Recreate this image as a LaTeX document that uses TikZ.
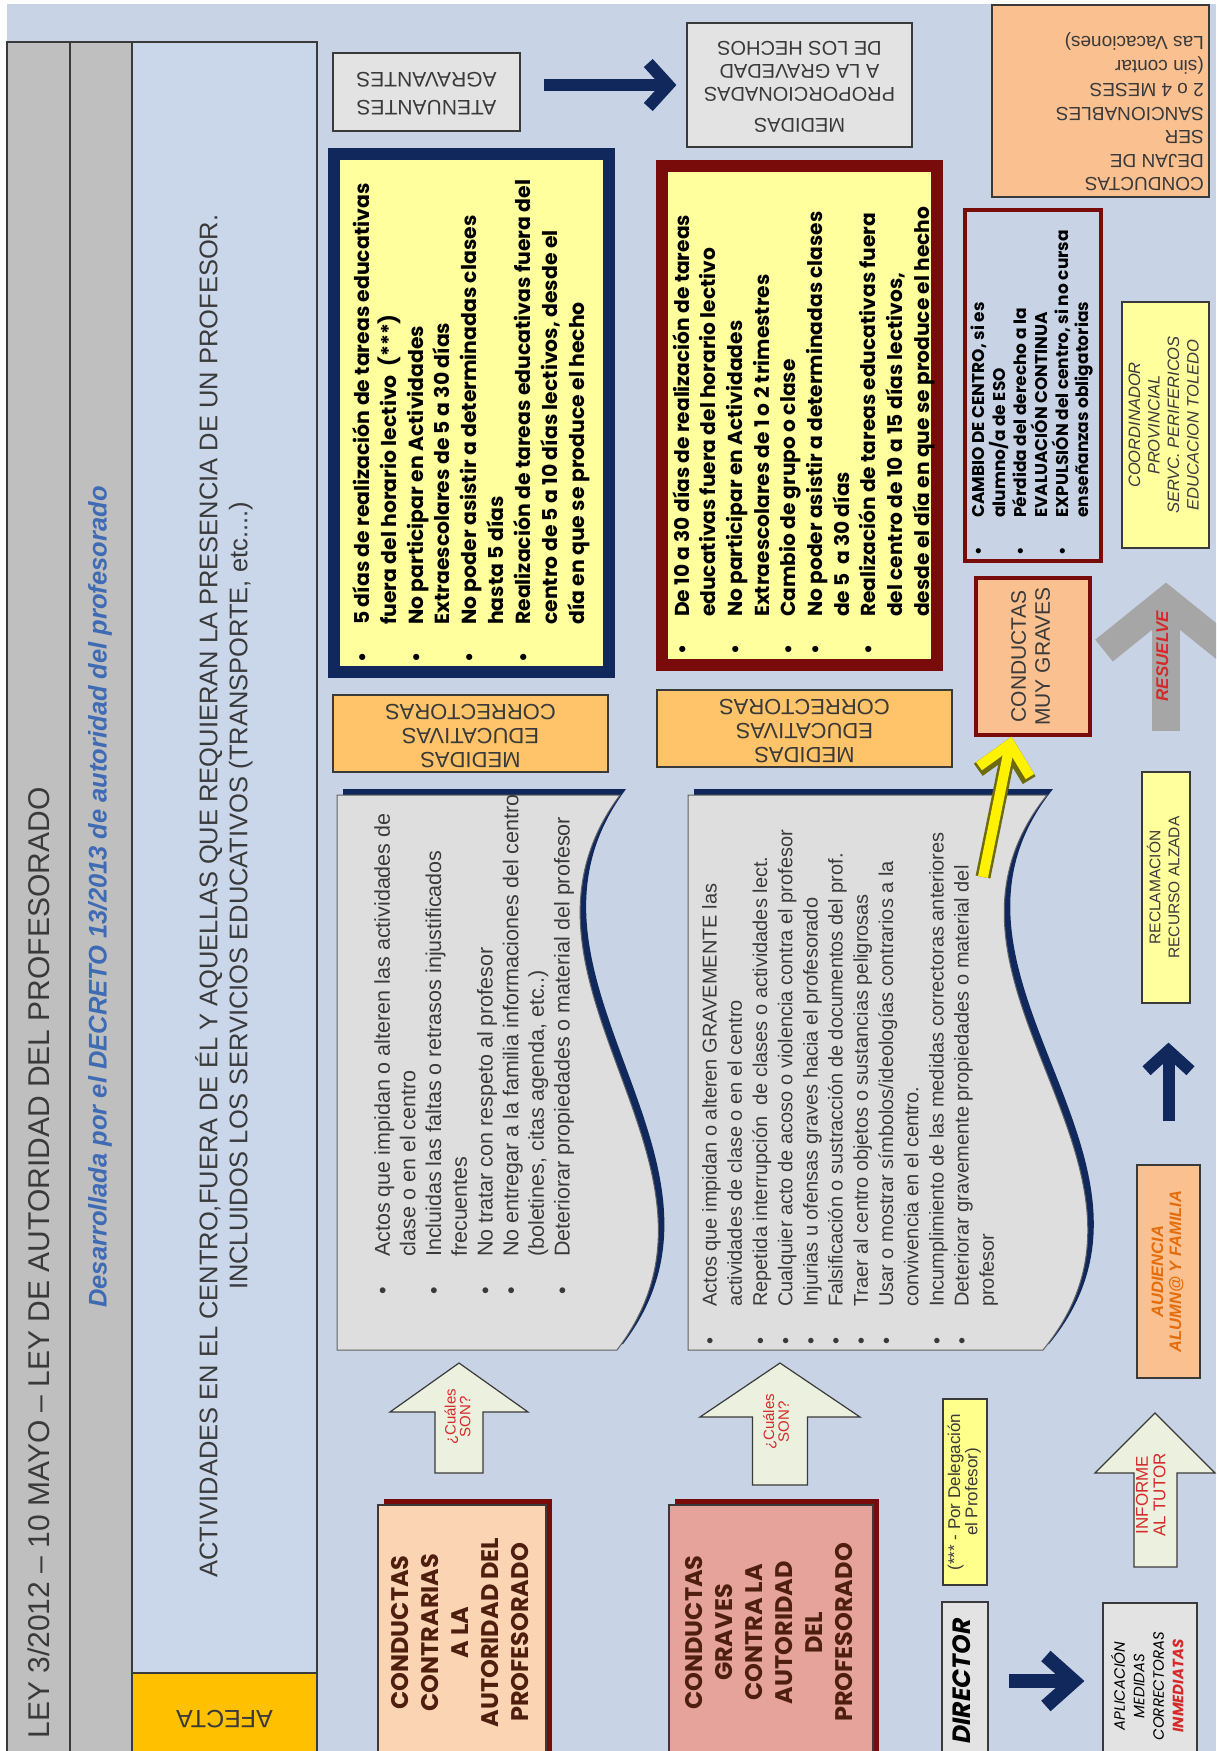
\documentclass[tikz,border=0pt]{standalone}
\usepackage{fontspec}
\setmainfont{Liberation Sans}
\newfontfamily\comicfont{Poppins}
\usepackage{graphicx}
\usetikzlibrary{arrows.meta}
\definecolor{slideBlue}{HTML}{C8D4E6}
\definecolor{bannerGrey}{HTML}{BFBFBF}
\definecolor{bannerBlue}{HTML}{CAD6E9}
\definecolor{navyBlue}{HTML}{10285C}
\definecolor{darkRed}{HTML}{7A0B0B}
\definecolor{paleYellow}{HTML}{FFFF9E}
\definecolor{noteYellow}{HTML}{FFFF8C}
\definecolor{medOrange}{HTML}{FFC469}
\definecolor{afectaGold}{HTML}{FFC000}
\definecolor{peach}{HTML}{FBD4B4}
\definecolor{apricot}{HTML}{FAC090}
\definecolor{rose}{HTML}{E5A39C}
\definecolor{docGrey}{HTML}{DEDEDE}
\definecolor{boxGrey}{HTML}{E3E3E3}
\definecolor{inkGrey}{HTML}{3A3A3A}
\definecolor{arrowGreen}{HTML}{EBF1DE}
\definecolor{titleBlue}{HTML}{3E6BB3}
\definecolor{alertRed}{HTML}{D42A2A}
\definecolor{audOrange}{HTML}{E46C0A}
\definecolor{brownInk}{HTML}{4E1E0E}
\definecolor{resGrey}{HTML}{A6A6A6}
\definecolor{yellowEdge}{HTML}{6E6A10}

\newlength{\bulletcol}
\setlength{\bulletcol}{40pt}
\newcommand{\upbox}[1]{\rotatebox{90}{\begin{tabular}{@{}c@{}}#1\end{tabular}}}
\newcommand{\flipbox}[1]{\rotatebox{180}{\begin{tabular}{@{}c@{}}#1\end{tabular}}}
\newcommand{\itm}{\makebox[\bulletcol][l]{\hspace{2pt}\textbullet}}
\newcommand{\cnt}{\hspace*{\bulletcol}}

\begin{document}
\begin{tikzpicture}[x=1pt, y=-1pt,
  box/.style={draw=inkGrey, line width=1.2pt, inner sep=0pt, text=inkGrey},
  bullets/.style={rotate=90, anchor=north west, align=left, inner sep=0pt},
  docshape/.style={fill=docGrey, draw=inkGrey!80, line width=1pt},
  blockup/.style={fill=arrowGreen, draw=inkGrey, line width=1.2pt},
  navyarrow/.style={draw=navyBlue, line width=12pt, -{Straight Barb[length=20pt,width=44pt]}},
  greyarrow/.style={draw=resGrey, line width=28pt, -{Straight Barb[length=50pt,width=124pt]}},
]
\useasboundingbox (0,0) rectangle (1216,1751);
\clip (0,0) rectangle (1216,1751);
\fill[white] (0,0) rectangle (1216,1751);
\fill[slideBlue] (7,4) rectangle (1216,1751);

% banner
\draw[fill=bannerGrey, draw=inkGrey, line width=1.5pt] (7,42) rectangle (70,1760);
\draw[fill=bannerGrey, draw=inkGrey, line width=1.5pt] (70,42) rectangle (132,1760);
\draw[fill=bannerBlue, draw=inkGrey, line width=1.5pt] (132,42) rectangle (317,1760);
\node[rotate=90, anchor=west, text=inkGrey, font=\fontsize{30}{36}\selectfont] (ley) at (39,1742)
  {LEY 3/2012 – 10 MAYO – LEY DE AUTORIDAD DEL PROFESORADO};
\node[rotate=90, text=titleBlue, font=\bfseries\itshape\fontsize{25.5}{30}\selectfont] (decreto) at (100,897)
  {Desarrollada por el DECRETO 13/2013 de autoridad del profesorado};
\node[rotate=90, align=center, text=inkGrey, font=\fontsize{25.5}{30}\selectfont] (ambito) at (224,896)
  {ACTIVIDADES EN EL CENTRO,FUERA DE ÉL Y AQUELLAS QUE REQUIERAN LA PRESENCIA DE UN PROFESOR.\\
   INCLUIDOS LOS SERVICIOS EDUCATIVOS (TRANSPORTE, etc....)};
\node[box, fill=afectaGold, minimum width=185pt, minimum height=87pt, font=\fontsize{25}{30}\selectfont] (afecta) at (224.5,1716.5) {\flipbox{AFECTA}};

% top row
\node[box, fill=boxGrey, minimum width=187pt, minimum height=78pt, font=\fontsize{21}{28}\selectfont] (aten) at (426.5,92)
  {\flipbox{ATENUANTES\\AGRAVANTES}};
\node[box, fill=boxGrey, minimum width=225pt, minimum height=124pt, font=\fontsize{20}{23}\selectfont] (medprop) at (799.5,85)
  {\flipbox{MEDIDAS\\[8pt]PROPORCIONADAS\\A LA GRAVEDAD\\DE LOS HECHOS}};
\node[box, fill=apricot, minimum width=217pt, minimum height=192pt] (dejan) at (1100.5,101) {};
\node[rotate=180, anchor=north west, align=left, inner sep=0pt, text=inkGrey, font=\fontsize{19}{23.5}\selectfont] (dejantxt) at (1204,191)
  {CONDUCTAS\\DEJAN DE\\SER\\SANCIONABLES\\2 o 4 MESES\\(sin contar\\Las Vacaciones)};

% medidas correctoras
\node[draw=navyBlue, line width=12pt, fill=paleYellow, minimum width=275pt, minimum height=518pt] (sancion1) at (471.5,413) {};
\node[draw=darkRed, line width=12pt, fill=paleYellow, minimum width=275pt, minimum height=499pt] (sancion2) at (799.5,415.5) {};
\node[bullets, font=\comicfont\bfseries\fontsize{20.4}{26.9}\selectfont] (lista1) at (352,665)
  {\itm 5 días de realización de tareas educativas\\
   \cnt fuera del horario lectivo\ \ (***)\\
   \itm No participar en Actividades\\
   \cnt Extraescolares de 5 a 30 días\\
   \itm No poder asistir a determinadas clases\\
   \cnt hasta 5 días\\
   \itm Realización de tareas educativas fuera del\\
   \cnt centro de 5 a 10 días lectivos, desde el\\
   \cnt día en que se produce el hecho};
\node[bullets, font=\comicfont\bfseries\fontsize{20.2}{26.7}\selectfont] (lista2) at (672,657)
  {\itm De 10 a 30 días de realización de tareas\\
   \cnt educativas fuera del horario lectivo\\
   \itm No participar en Actividades\\
   \cnt Extraescolares de 1 o 2 trimestres\\
   \itm Cambio de grupo o clase\\
   \itm No poder asistir a determinadas clases\\
   \cnt de 5\ \ a 30 días\\
   \itm Realización de tareas educativas fuera\\
   \cnt del centro de 10 a 15 días lectivos,\\
   \cnt desde el día en que se produce el hecho};
\node[box, fill=medOrange, minimum width=275pt, minimum height=77pt, font=\fontsize{22}{24}\selectfont] (mededuc1) at (470.5,733.5)
  {\flipbox{MEDIDAS\\EDUCATIVAS\\CORRECTORAS}};
\node[box, fill=medOrange, minimum width=295pt, minimum height=77pt, font=\fontsize{22}{24}\selectfont] (mededuc2) at (804.5,728.5)
  {\flipbox{MEDIDAS\\EDUCATIVAS\\CORRECTORAS}};

% conductas (documentos)
\fill[navyBlue, shift={(6,-6)}] (337,795) -- (620,795) .. controls (482,980) and (758,1165) .. (617,1350) -- (337,1350) -- cycle;
\filldraw[docshape] (337,795) -- (620,795) .. controls (482,980) and (758,1165) .. (617,1350) -- (337,1350) -- cycle;
\fill[navyBlue, shift={(6,-6)}] (688,795) -- (1047,795) .. controls (899,980) and (1195,1165) .. (1043,1350) -- (688,1350) -- cycle;
\filldraw[docshape] (688,795) -- (1047,795) .. controls (899,980) and (1195,1165) .. (1043,1350) -- (688,1350) -- cycle;
\node[bullets, text=inkGrey, font=\fontsize{21.5}{25.7}\selectfont] (lista3) at (374,1297)
  {\itm Actos que impidan o alteren las actividades de\\
   \cnt clase o en el centro\\
   \itm Incluidas las faltas o retrasos injustificados\\
   \cnt frecuentes\\
   \itm No tratar con respeto al profesor\\
   \itm No entregar a la familia informaciones del centro\\
   \cnt (boletines, citas agenda, etc..)\\
   \itm Deteriorar propiedades o material del profesor};
\node[bullets, text=inkGrey, font=\fontsize{20}{25.2}\selectfont] (lista4) at (702,1347)
  {\itm Actos que impidan o alteren GRAVEMENTE las\\
   \cnt actividades de clase o en el centro\\
   \itm Repetida interrupción\ \ de clases o actividades lect.\\
   \itm Cualquier acto de acoso o violencia contra el profesor\\
   \itm Injurias u ofensas graves hacia el profesorado\\
   \itm Falsificación o sustracción de documentos del prof.\\
   \itm Traer al centro objetos o sustancias peligrosas\\
   \itm Usar o mostrar símbolos/ideologías contrarios a la\\
   \cnt convivencia en el centro.\\
   \itm Incumplimiento de las medidas correctoras anteriores\\
   \itm Deteriorar gravemente propiedades o material del\\
   \cnt profesor};

% block arrows
\filldraw[blockup] (459,1363) -- (528,1412) -- (483,1412) -- (483,1473) -- (435,1473) -- (435,1412) -- (390,1412) -- cycle;
\node[text=alertRed, font=\fontsize{15}{14}\selectfont] (cuales1) at (459.5,1417) {\upbox{¿Cuáles\\SON?}};
\filldraw[blockup] (780,1363) -- (860,1417) -- (807.5,1417) -- (807.5,1485) -- (752.5,1485) -- (752.5,1417) -- (700,1417) -- cycle;
\node[text=alertRed, font=\fontsize{15}{14}\selectfont] (cuales2) at (778,1422) {\upbox{¿Cuáles\\SON?}};
\filldraw[blockup] (1155,1413) -- (1215,1473) -- (1177,1473) -- (1177,1567) -- (1134,1567) -- (1134,1473) -- (1095,1473) -- cycle;
\node[text=alertRed, font=\fontsize{17}{17.5}\selectfont] (informe) at (1153,1495) {\upbox{INFORME\\AL TUTOR}};

% tipos de conducta
\fill[darkRed] (384,1499) rectangle (552,1760);
\node[box, fill=peach, minimum width=168pt, minimum height=255pt, text=brownInk, font=\comicfont\bfseries\fontsize{24}{30}\selectfont] (contrarias) at (462,1632.5)
  {\upbox{CONDUCTAS\\CONTRARIAS\\A LA\\AUTORIDAD DEL\\PROFESORADO}};
\fill[darkRed] (675,1499) rectangle (879,1760);
\node[box, fill=rose, minimum width=204pt, minimum height=255pt, text=brownInk, font=\comicfont\bfseries\fontsize{24}{30}\selectfont] (graves) at (771,1632.5)
  {\upbox{CONDUCTAS\\GRAVES\\CONTRA LA\\AUTORIDAD\\DEL\\PROFESORADO}};

% procedimiento
\node[box, fill=noteYellow, minimum width=44pt, minimum height=186pt, font=\fontsize{17}{17}\selectfont] (delegacion) at (965,1492)
  {\upbox{(*** - Por Delegación\\el Profesor)}};
\node[box, fill=boxGrey, minimum width=46pt, minimum height=158pt, text=black, font=\comicfont\bfseries\itshape\fontsize{25}{28}\selectfont] (director) at (965,1681)
  {\upbox{DIRECTOR}};
\node[box, fill=boxGrey, minimum width=94pt, minimum height=166pt, text=black, font=\comicfont\itshape\fontsize{15}{19.5}\selectfont] (aplic) at (1150,1686)
  {\upbox{APLICACIÓN\\MEDIDAS\\CORRECTORAS\\\textcolor{alertRed}{\bfseries INMEDIATAS}}};
\node[box, fill=apricot, minimum width=63pt, minimum height=213pt, text=audOrange, font=\bfseries\itshape\fontsize{16.5}{18}\selectfont] (audiencia) at (1168.5,1271.5)
  {\upbox{AUDIENCIA\\ALUMN@ Y FAMILIA}};
\node[box, fill=paleYellow, minimum width=48pt, minimum height=231pt, font=\fontsize{15.5}{19}\selectfont] (reclam) at (1166,887.5)
  {\upbox{RECLAMACIÓN\\RECURSO ALZADA}};
\node[box, fill=paleYellow, minimum width=87pt, minimum height=246pt, font=\itshape\fontsize{16.5}{19.5}\selectfont] (coord) at (1165.5,425)
  {\upbox{COORDINADOR\\PROVINCIAL\\SERVC. PERIFERICOS\\EDUCACION TOLEDO}};
\node[box, draw=darkRed, line width=3.5pt, fill=apricot, minimum width=114pt, minimum height=157pt, font=\fontsize{21}{24}\selectfont] (muygraves) at (1033,656.5)
  {\upbox{CONDUCTAS\\MUY GRAVES}};
\node[draw=darkRed, line width=4pt, fill=slideBlue, minimum width=136pt, minimum height=351pt, inner sep=0pt] (cambio) at (1033,385.5) {};
\node[bullets, font=\comicfont\bfseries\fontsize{17}{20.8}\selectfont] (lista5) at (971,558)
  {\itm CAMBIO DE CENTRO, si es\\
   \cnt alumno/a de ESO\\
   \itm Pérdida del derecho a la\\
   \cnt EVALUACIÓN CONTINUA\\
   \itm EXPULSIÓN del centro, si no cursa\\
   \cnt enseñanzas obligatorias};

% connectors
\draw[greyarrow, shorten <=40pt, shorten >=34pt] (reclam.north) -- (reclam.north |- coord.south);
\node[text=alertRed, font=\bfseries\itshape\fontsize{17}{20}\selectfont] (resuelve) at (1164,656) {\upbox{RESUELVE}};
\draw[navyarrow, shorten <=23pt, shorten >=10pt] (aten.east |- medprop.west) -- (medprop.west);
\draw[navyarrow, shorten <=43pt, shorten >=39pt] (audiencia.north) -- (audiencia.north |- reclam.south);
\draw[navyarrow, line width=14pt, -{Straight Barb[length=28pt,width=50pt]}, shorten <=20pt, shorten >=18pt] (director) -- (director -| aplic.west);
\coordinate (ystart) at (983,877);
\draw[draw=yellowEdge, line width=15pt, -{Straight Barb[length=28pt,width=52pt]}] (ystart) -- (muygraves.-105);
\draw[draw=yellow, line width=10pt, -{Straight Barb[length=28pt,width=52pt]}] (ystart) -- (muygraves.-105);

\end{tikzpicture}
\end{document}
